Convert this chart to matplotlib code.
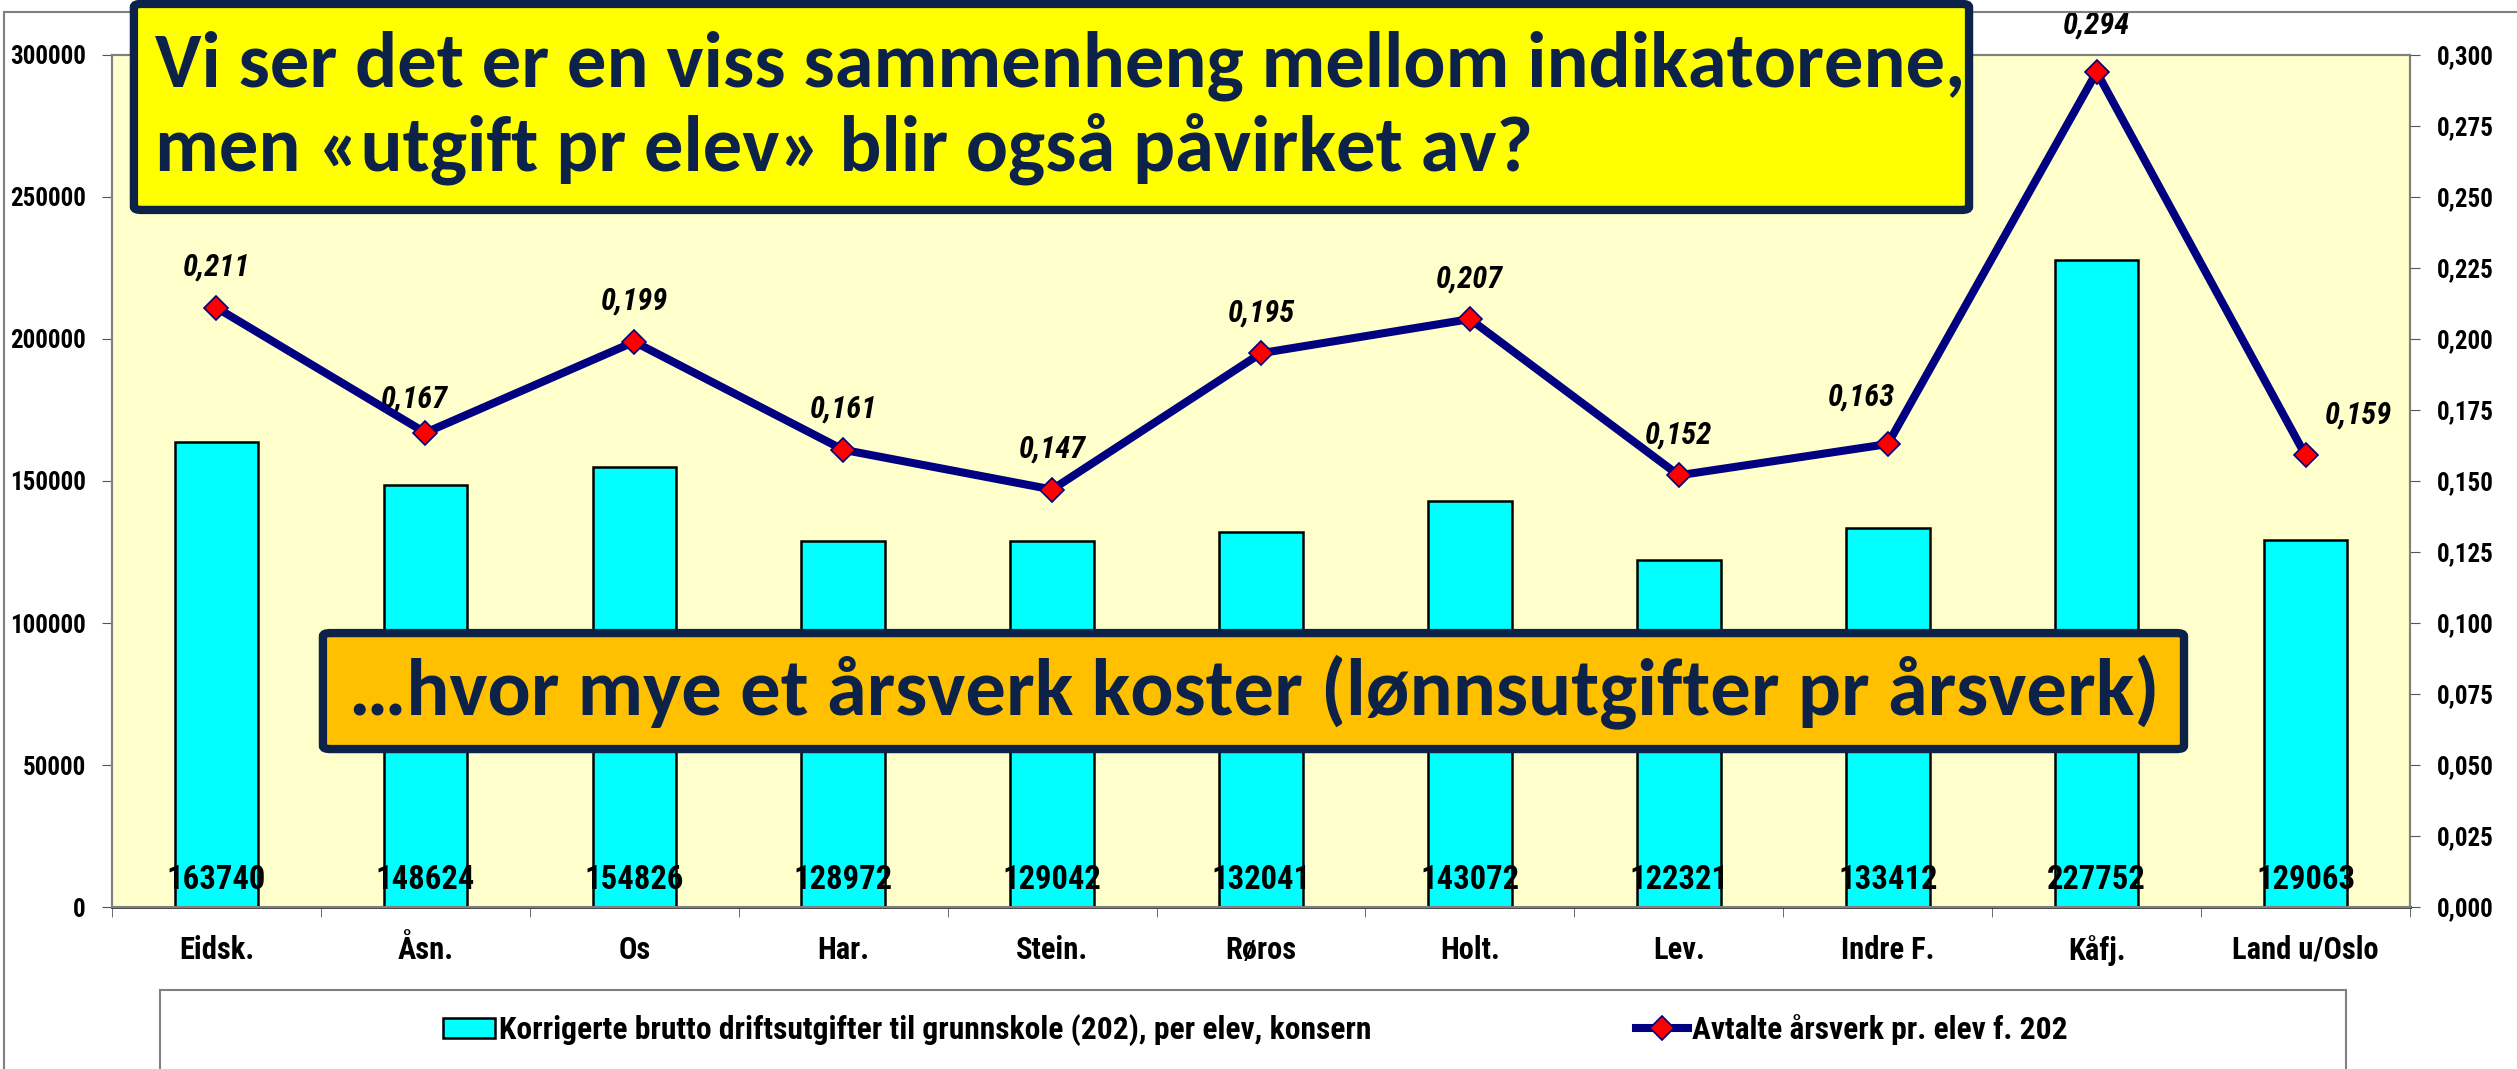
import matplotlib.pyplot as plt
from matplotlib.patches import Rectangle, FancyBboxPatch
from matplotlib.ticker import FuncFormatter, MultipleLocator
import numpy as np

# data
kommuner = ['Eidsk.', 'Åsn.', 'Os', 'Har.', 'Stein.', 'Røros', 'Holt.',
            'Lev.', 'Indre F.', 'Kåfj.', 'Land u/Oslo']
utgift_pr_elev = [163740, 148624, 154826, 128972, 129042, 132041, 143072,
                  122321, 133412, 227752, 129063]
aarsverk_pr_elev = [0.211, 0.167, 0.199, 0.161, 0.147, 0.195, 0.207,
                    0.152, 0.163, 0.294, 0.159]

bar_label = 'Korrigerte brutto driftsutgifter til grunnskole (202), per elev, konsern'
line_label = 'Avtalte årsverk pr. elev f. 202'
title_1 = 'Vi ser det er en viss sammenheng mellom indikatorene,\nmen «utgift pr elev» blir også påvirket av?'
title_2 = '…hvor mye et årsverk koster (lønnsutgifter pr årsverk)'

# label nudges (points), the way they sit in the original chart
label_dx = [0, -8, 0, 0, 0, 0, 0, 0, -19, 0, 38]
label_dy = [29, 24, 29, 29, 29, 29, 29, 29, 34, 34, 29]

NARROW = ['Roboto Condensed', 'DejaVu Sans']
TITLE_FONT = ['Carlito', 'DejaVu Sans']
NAVY = '#0c2249'

fig = plt.figure(figsize=(25.17, 10.69), dpi=100)
ax = fig.add_axes([0.0445, 0.1515, 0.9130, 0.7971])
ax.set_facecolor('#ffffcc')

# chart area border
fig.patches.append(Rectangle((0.0016, -0.2), 1.5, 1.1888, transform=fig.transFigure,
                             fill=False, edgecolor='#808080', linewidth=1.5))

x = np.arange(len(kommuner))
bars = ax.bar(x, utgift_pr_elev, width=0.4, color='#00ffff',
              edgecolor='black', linewidth=1.8, zorder=2, label=bar_label)
ax.set_xlim(-0.5, len(kommuner) - 0.5)
ax.set_ylim(0, 300000)
ax.yaxis.set_major_locator(MultipleLocator(50000))

# value labels at the foot of each bar
for xi, v in zip(x, utgift_pr_elev):
    ax.text(xi, 0.032, str(v), transform=ax.get_xaxis_transform(),
            ha='center', va='center', fontsize=23.5, fontweight='bold',
            family=NARROW, zorder=3)

ax2 = ax.twinx()
ax2.plot(x, aarsverk_pr_elev, color='#000080', linewidth=5.8, marker='D',
         markersize=12, markerfacecolor='red', markeredgecolor='#000080',
         markeredgewidth=1.2, zorder=4, label=line_label)
ax2.set_ylim(0, 0.3)
ax2.yaxis.set_major_locator(MultipleLocator(0.025))
ax2.yaxis.set_major_formatter(FuncFormatter(lambda v, p: f'{v:.3f}'.replace('.', ',')))

for xi, v, dx, dy in zip(x, aarsverk_pr_elev, label_dx, label_dy):
    ax2.annotate(f'{v:.3f}'.replace('.', ','), (xi, v), xytext=(dx, dy),
                 textcoords='offset points', ha='center', va='center',
                 fontsize=22, fontweight='bold', fontstyle='italic', family=NARROW)

# ticks
ax.set_xticks(x)
ax.set_xticklabels(kommuner)
ax.set_xticks(np.arange(len(kommuner) + 1) - 0.5, minor=True)
ax.tick_params(axis='x', which='major', length=0, pad=20)
ax.tick_params(axis='x', which='minor', length=7, direction='out', color='#555555')
ax.tick_params(axis='y', length=7, direction='out', pad=12, color='#555555')
ax2.tick_params(axis='y', length=7, direction='out', pad=12, color='#555555')
for lab in ax.get_xticklabels():
    lab.set_fontsize(22)
    lab.set_fontweight('bold')
    lab.set_family(NARROW)
for lab in ax.get_yticklabels() + ax2.get_yticklabels():
    lab.set_fontsize(18)
    lab.set_fontweight('bold')
    lab.set_family(NARROW)

for a in (ax, ax2):
    for s in a.spines.values():
        s.set_color('#808080')
        s.set_linewidth(1.5)
ax.spines['bottom'].set_color('#333333')
ax.spines['bottom'].set_linewidth(2)

# legend
fig.patches.append(Rectangle((0.0636, -0.1), 0.8686, 0.1739, transform=fig.transFigure,
                             facecolor='white', edgecolor='#808080', linewidth=1.5))
handles = [bars, ax2.get_lines()[0]]
leg = fig.legend(handles, [bar_label, line_label], loc='center',
                 bbox_to_anchor=(0.4986, 0.0365), ncol=2, frameon=False,
                 handlelength=1.65, handleheight=0.63, handletextpad=0.12,
                 columnspacing=8.4, prop={'family': NARROW, 'weight': 'bold', 'size': 22.7})

# text boxes on top
box1 = FancyBboxPatch((0.0532, 0.8036), 0.7291, 0.1927,
                      boxstyle='round,pad=0,rounding_size=0.003',
                      transform=fig.transFigure, facecolor='#ffff00',
                      edgecolor=NAVY, linewidth=6, zorder=10)
fig.patches.append(box1)
fig.text(0.0615, 0.899, title_1, ha='left', va='center', fontsize=56.5,
         fontweight='bold', family=TITLE_FONT, color=NAVY, zorder=11,
         linespacing=1.2)

box2 = FancyBboxPatch((0.1283, 0.2993), 0.7394, 0.1085,
                      boxstyle='round,pad=0,rounding_size=0.003',
                      transform=fig.transFigure, facecolor='#ffc000',
                      edgecolor=NAVY, linewidth=6, zorder=10)
fig.patches.append(box2)
fig.text(0.1386, 0.3535, title_2, ha='left', va='center', fontsize=58,
         fontweight='bold', family=TITLE_FONT, color=NAVY, zorder=11)

fig.savefig('out.png', dpi=100)
